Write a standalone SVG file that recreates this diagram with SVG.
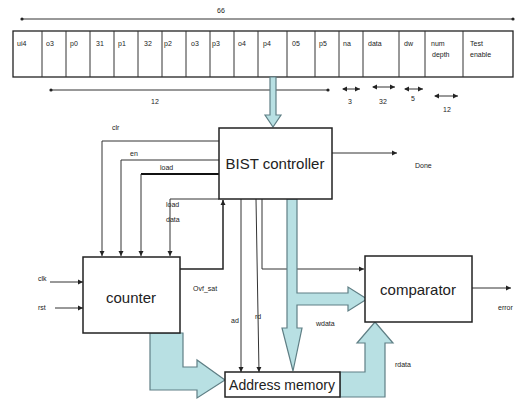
<svg xmlns="http://www.w3.org/2000/svg" width="516" height="403" viewBox="0 0 516 403">
<style>
.t{font-family:"Liberation Sans",Arial,sans-serif;fill:#222}
.s{font-size:7px}
.b{font-size:15px}
.ln{stroke:#333;stroke-width:1;fill:none}
.box{fill:#fff;stroke:#222;stroke-width:1.5}
.fat{fill:#b8e0e3;stroke:#5f7f85;stroke-width:1.2}
</style>
<defs>
<marker id="ah" markerWidth="6" markerHeight="6" refX="5" refY="3" orient="auto" markerUnits="userSpaceOnUse">
<path d="M0,0.5 L5,3 L0,5.5 Z" fill="#222"/>
</marker>
<marker id="as" markerWidth="6" markerHeight="6" refX="1" refY="3" orient="auto" markerUnits="userSpaceOnUse">
<path d="M5,0.5 L0,3 L5,5.5 Z" fill="#222"/>
</marker>
<marker id="dot" markerWidth="4" markerHeight="4" refX="2" refY="2" markerUnits="userSpaceOnUse">
<circle cx="2" cy="2" r="1.6" fill="#222"/>
</marker>
</defs>

<g id="register">
<rect x="13" y="31" width="500" height="46" fill="#fff" stroke="#222" stroke-width="1.3"/>
<g stroke="#333" stroke-width="1">
<line x1="42" y1="31" x2="42" y2="77"/><line x1="66" y1="31" x2="66" y2="77"/>
<line x1="90" y1="31" x2="90" y2="77"/><line x1="114" y1="31" x2="114" y2="77"/>
<line x1="138" y1="31" x2="138" y2="77"/><line x1="162" y1="31" x2="162" y2="77"/>
<line x1="186" y1="31" x2="186" y2="77"/><line x1="210" y1="31" x2="210" y2="77"/>
<line x1="234" y1="31" x2="234" y2="77"/><line x1="258" y1="31" x2="258" y2="77"/>
<line x1="287" y1="31" x2="287" y2="77"/><line x1="315" y1="31" x2="315" y2="77"/>
<line x1="339" y1="31" x2="339" y2="77"/><line x1="363" y1="31" x2="363" y2="77"/>
<line x1="399" y1="31" x2="399" y2="77"/><line x1="425" y1="31" x2="425" y2="77"/>
<line x1="463" y1="31" x2="463" y2="77"/>
</g>
<g class="t s">
<text x="17" y="46">ui4</text><text x="46" y="46">o3</text><text x="70" y="46">p0</text>
<text x="96" y="46">31</text><text x="118" y="46">p1</text><text x="144" y="46">32</text>
<text x="164" y="46">p2</text><text x="191" y="46">o3</text><text x="212" y="46">p3</text>
<text x="238" y="46">o4</text><text x="263" y="46">p4</text><text x="292" y="46">05</text>
<text x="319" y="46">p5</text><text x="343" y="46">na</text><text x="368" y="46">data</text>
<text x="404" y="46">dw</text><text x="431" y="46">num</text><text x="432" y="57">depth</text>
<text x="470" y="46">Test</text><text x="470" y="57">enable</text>
</g>
</g>

<g id="dimensions">
<line x1="22" y1="19" x2="513" y2="19" class="ln" marker-start="url(#dot)" marker-end="url(#dot)"/>
<text x="221" y="13" class="t s" text-anchor="middle">66</text>
<line x1="51" y1="90" x2="328" y2="90" class="ln" marker-start="url(#dot)" marker-end="url(#dot)"/>
<text x="155" y="104" class="t s" text-anchor="middle">12</text>
<line x1="343" y1="89" x2="360" y2="89" class="ln" marker-start="url(#as)" marker-end="url(#ah)"/>
<text x="350" y="104" class="t s" text-anchor="middle">3</text>
<line x1="373" y1="87" x2="395" y2="87" class="ln" marker-start="url(#as)" marker-end="url(#ah)"/>
<text x="383" y="104" class="t s" text-anchor="middle">32</text>
<line x1="405" y1="89" x2="423" y2="89" class="ln" marker-start="url(#as)" marker-end="url(#ah)"/>
<text x="413" y="101" class="t s" text-anchor="middle">5</text>
<line x1="435" y1="96" x2="458" y2="96" class="ln" marker-start="url(#as)" marker-end="url(#ah)"/>
<text x="447" y="112" class="t s" text-anchor="middle">12</text>
</g>

<g id="connectors">
<polygon class="fat" points="270,77 276,77 276,115 281,115 273,127 265,115 270,115"/>
<line x1="332" y1="153" x2="397" y2="153" class="ln" marker-end="url(#ah)"/>
<path d="M219,141 H102 V256" class="ln" marker-end="url(#ah)"/>
<path d="M219,160 H121 V256" class="ln" marker-end="url(#ah)"/>
<path d="M219,174 H141" fill="none" stroke="#111" stroke-width="2.2"/>
<path d="M141,174 V256" class="ln" marker-end="url(#ah)"/>
<path d="M219,199 H170 V256" class="ln" marker-end="url(#ah)"/>
<line x1="50" y1="282" x2="83" y2="282" class="ln" marker-end="url(#ah)"/>
<line x1="55" y1="308" x2="83" y2="308" class="ln" marker-end="url(#ah)"/>
<path d="M180,269 H223 V200" fill="none" stroke="#222" stroke-width="1.5" marker-end="url(#ah)"/>
<line x1="241" y1="199" x2="241" y2="372" class="ln" marker-end="url(#ah)"/>
<line x1="256" y1="199" x2="259" y2="372" class="ln" marker-end="url(#ah)"/>
<path d="M262,199 V269 H364" class="ln" marker-end="url(#ah)"/>
<line x1="472" y1="288" x2="511" y2="288" class="ln" marker-end="url(#ah)"/>
<polygon class="fat" points="287,199 297,199 297,293 348,293 348,287 367,299 348,311 348,305 297,305 297,328 302,328 293,371 282,328 287,328"/>
<polygon class="fat" points="150,333 183,333 183,367 197,367 197,360 225,380 197,398 197,390 150,390"/>
<polygon class="fat" points="340,372 365,372 365,343 357,343 375,322 393,343 385,343 385,397 340,397"/>
<g class="t s">
<text x="112" y="130">clr</text>
<text x="130" y="156">en</text>
<text x="160" y="170">load</text>
<text x="166" y="207">load</text>
<text x="166" y="222">data</text>
<text x="38" y="281">clk</text>
<text x="38" y="310">rst</text>
<text x="193" y="291">Ovf_sat</text>
<text x="231" y="323">ad</text>
<text x="255" y="319">rd</text>
<text x="316" y="326">wdata</text>
<text x="395" y="367">rdata</text>
<text x="415" y="168">Done</text>
<text x="498" y="310">error</text>
</g>
</g>

<g id="bist">
<rect class="box" x="219" y="128" width="113" height="71"/>
<text x="275" y="169" class="t b" text-anchor="middle">BIST controller</text>
</g>

<g id="counter">
<rect class="box" x="83" y="257" width="97" height="76"/>
<text x="131" y="303" class="t b" text-anchor="middle">counter</text>
</g>

<g id="comparator">
<rect class="box" x="365" y="256" width="107" height="66"/>
<text x="418" y="295" class="t b" text-anchor="middle">comparator</text>
</g>

<g id="address_memory">
<rect class="box" x="225" y="372" width="115" height="25"/>
<text x="282" y="390" class="t" font-size="14" text-anchor="middle">Address memory</text>
</g>
</svg>
